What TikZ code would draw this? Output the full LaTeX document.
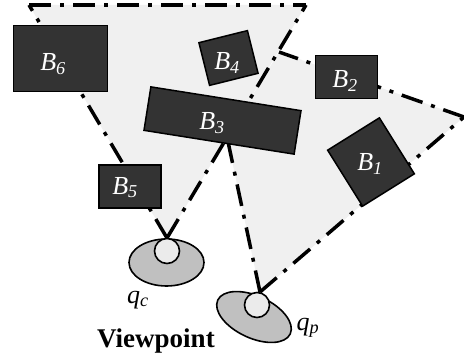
\documentclass[tikz,border=0pt]{standalone}
\usepackage{fontspec}
\setmainfont{Liberation Serif}
\usetikzlibrary{shapes.geometric}
\definecolor{viewgray}{HTML}{F0F0F0}
\definecolor{blockgray}{HTML}{333333}
\definecolor{eyegray}{HTML}{C0C0C0}
\definecolor{pupilgray}{HTML}{EBEBEB}

\begin{document}
\begin{tikzpicture}[
    x=1pt, y=-1pt,
    every node/.style={font=\fontsize{26}{30}\selectfont},
    block/.style={rectangle, draw=black, fill=blockgray, line width=1.5pt, inner sep=0pt},
    blocklabel/.style={text=white, anchor=base, font=\fontsize{26}{30}\selectfont\itshape},
    sight/.style={line width=3.5pt, dash pattern=on 22pt off 9pt on 4pt off 9pt},
    eye/.style={ellipse, draw=black, fill=eyegray, line width=1.6pt, inner sep=0pt},
    pupil/.style={circle, draw=black, fill=pupilgray, line width=1.6pt, inner sep=0pt, minimum size=25pt}
]
    \useasboundingbox (0,0) rectangle (464,361);

    % --- view regions of q_c and q_p ---
    \coordinate (cl) at (29,5);
    \coordinate (cr) at (306,5);
    \coordinate (capex) at (167,238);
    \coordinate (papex) at (260,292);
    \coordinate (pr) at (464,117);
    \coordinate (ptop) at (279,52);
    \coordinate (pmid) at (227,137);
    \fill[viewgray] (cl) -- (cr) -- (capex) -- cycle;
    \fill[viewgray] (papex) -- (pr) -- (ptop) -- (pmid) -- cycle;

    \draw[sight] (capex) -- (cl);
    \draw[sight] (capex) -- (cr);
    \draw[sight] (cl) -- (cr);
    \draw[sight] (papex) -- (pmid);
    \draw[sight] (papex) -- (pr);
    \draw[sight] (pr) -- (ptop);

    % --- blocks ---
    \node[block, minimum width=94pt, minimum height=66pt] (b6) at (60.5,58.5) {};
    \node[block, minimum width=62pt, minimum height=43pt] (b5) at (130,186.5) {};
    \node[block, minimum width=62pt, minimum height=43pt] (b2) at (346.5,77) {};
    \node[block, minimum width=50pt, minimum height=44pt, rotate=14] (b4) at (228.5,58) {};
    \node[block, minimum width=152pt, minimum height=44pt, rotate=-9] (b3) at (222.5,120.5) {};
    \node[block, minimum width=61pt, minimum height=66pt, rotate=32] (b1) at (371,162) {};

    \node[blocklabel] (b6label) at (53,71) {B\textsubscript{6}};
    \node[blocklabel] (b5label) at (125,194) {B\textsubscript{5}};
    \node[blocklabel] (b2label) at (345,88) {B\textsubscript{2}};
    \node[blocklabel] (b4label) at (227,70) {B\textsubscript{4}};
    \node[blocklabel] (b3label) at (212,130) {B\textsubscript{3}};
    \node[blocklabel] (b1label) at (370,171) {B\textsubscript{1}};

    % --- viewpoints ---
    \node[eye, minimum width=75pt, minimum height=47pt] (qc) at (166.5,262.5) {};
    \node[pupil] (qcpupil) at (167,251) {};
    \node[eye, minimum width=80pt, minimum height=42pt, rotate=-25] (qp) at (254,317) {};
    \node[pupil] (qppupil) at (257,305) {};

    \node[anchor=base] (qclabel) at (138,303) {\itshape q\textsubscript{c}};
    \node[anchor=base] (qplabel) at (308,330) {\itshape q\textsubscript{p}};
    \node[anchor=base, font=\fontsize{27}{32}\selectfont\bfseries] (vplabel) at (156,347) {Viewpoint};
\end{tikzpicture}
\end{document}
